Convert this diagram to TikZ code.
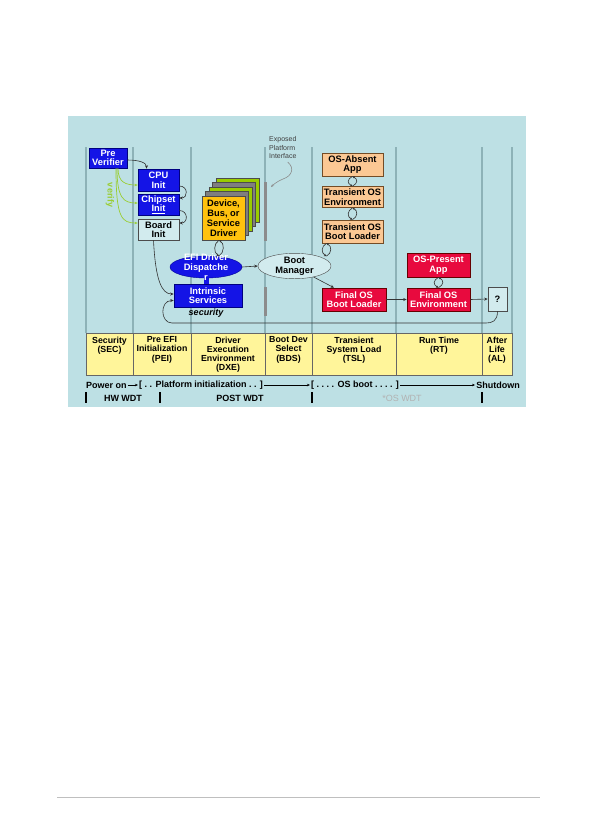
\documentclass[tikz,border=0pt]{standalone}
\usepackage{fontspec}
\setmainfont{Liberation Sans}
\usetikzlibrary{arrows.meta,shapes.geometric}
\definecolor{bg}{HTML}{BDE0E4}
\definecolor{vline}{HTML}{8DB2B7}
\definecolor{eblue}{HTML}{1414E6}
\definecolor{ered}{HTML}{E80A3E}
\definecolor{peach}{HTML}{FBC894}
\definecolor{tyellow}{HTML}{FFF59A}
\definecolor{gold}{HTML}{FFC20E}
\definecolor{lgreen}{HTML}{99CC00}
\definecolor{vgreen}{HTML}{9ACD32}
\definecolor{cgray}{HTML}{7F7F7F}
\definecolor{lbox}{HTML}{D2EBEE}
\tikzset{
 bx/.style={draw, inner sep=0pt, align=center, font=\fontsize{9.3}{9.6}\selectfont\bfseries, line width=0.6pt},
 bluebox/.style={bx, fill=eblue, draw=blue!50!black, text=white},
 redbox/.style={bx, fill=ered, draw=red!40!black, text=white},
 peachbox/.style={bx, fill=peach, draw=brown!60!black, text=black},
 plainbox/.style={bx, fill=lbox, draw=black!70, text=black},
 card/.style={draw=black!70, line width=0.5pt, minimum width=43pt, minimum height=44pt, inner sep=0pt},
 con/.style={draw=black!80, line width=0.6pt, -{Stealth[length=3.5pt,width=3pt]}},
 lcon/.style={draw=black!80, line width=0.6pt, -{Stealth[length=2.5pt,width=2.5pt]}},
 vcon/.style={draw=vgreen, line width=0.7pt, -{Stealth[length=3pt,width=2.5pt]}},
 phase/.style={inner sep=0pt, align=center, font=\fontsize{8.8}{9.2}\selectfont\bfseries, anchor=north},
 bt/.style={inner sep=1pt, font=\fontsize{9}{9}\selectfont\bfseries},
 bcon/.style={draw=black, line width=0.6pt, -{Stealth[length=3pt,width=2.5pt]}},
}
\newcommand\loopar[2]{%
 \draw[lcon] (#1) .. controls +(-5.5,3) and +(-5.5,-3) .. (#2);
 \draw[lcon] (#2) .. controls +(5.5,-3) and +(5.5,3) .. (#1);}
\begin{document}
\begin{tikzpicture}[x=1pt,y=-1pt]
\useasboundingbox (0,0) rectangle (595,839);
\fill[white] (0,0) rectangle (595,839);
\fill[bg] (68,116) rectangle (526,407);
\draw[black!25, line width=0.5pt] (57,797) -- (540,797);
% phase lines
\foreach \x in {86,133,191,265,312,396,482,512} \draw[vline, line width=1.3pt] (\x,147) -- (\x,333);
\draw[cgray!90, line width=3pt] (265.5,182) -- (265.5,241);
\draw[cgray!90, line width=3pt] (265.5,287) -- (265.5,316);
% table
\draw[fill=tyellow, draw=black!60, line width=0.6pt] (86,333) rectangle (512,375);
\foreach \x in {133,191,265,312,396,482} \draw[black!60, line width=0.6pt] (\x,333) -- (\x,375);
\node[phase] (sec) at (109.5,336.5) {Security\\(SEC)};
\node[phase] (pei) at (162,336.5) {Pre EFI\\Initialization\\(PEI)};
\node[phase] (dxe) at (228,336.5) {Driver\\Execution\\Environment\\(DXE)};
\node[phase] (bds) at (288.5,336.5) {Boot Dev\\Select\\(BDS)};
\node[phase] (tsl) at (354,336.5) {Transient\\System Load\\(TSL)};
\node[phase] (rt) at (439,336.5) {Run Time\\(RT)};
\node[phase] (al) at (497,336.5) {After\\Life\\(AL)};
% bottom rows
\node[bt, anchor=west] (pon) at (85,385) {Power on};
\node[bt] (pfi) at (201,385) {[ .\ . Platform initialization .\ . ]};
\node[bt] (osb) at (355,385) {[ .\ .\ .\ . OS boot .\ .\ .\ . ]};
\node[bt] (shd) at (498,385) {Shutdown};
\draw[bcon] (pon) -- (pfi);
\draw[bcon] (pfi) -- (osb);
\draw[bcon] (osb) -- (shd);
\foreach \x in {86,160,312,482} \draw[line width=1.6pt] (\x,392) -- (\x,403);
\node[bt] (hw) at (123,398) {HW WDT};
\node[bt] (post) at (240,398) {POST WDT};
\node[bt, text=black!30, font=\fontsize{9}{9}\selectfont] (osw) at (402,398) {*OS WDT};
% PEI boxes
\node[bluebox, minimum width=38pt, minimum height=20pt] (pre) at (108,158) {Pre\\Verifier};
\node[bluebox, minimum width=41pt, minimum height=22pt] (cpu) at (158.5,180) {CPU\\Init};
\node[bluebox, minimum width=41pt, minimum height=21pt] (chip) at (158.5,204.5) {Chipset\\\underline{Init}};
\node[plainbox, minimum width=41pt, minimum height=21pt] (board) at (158.5,229.5) {Board\\Init};
\draw[con] ([yshift=-2pt]pre.east) .. controls +(12,0) and +(0,-6) .. ([xshift=-12pt]cpu.north);
\draw[con] ([yshift=-6pt]cpu.east) .. controls +(9,0) and +(9,0) .. ([yshift=6.5pt]chip.east);
\draw[con] ([yshift=-6pt]chip.east) .. controls +(9,0) and +(9,0) .. ([yshift=6.5pt]board.east);
\draw[vcon] ([xshift=10pt]pre.south) .. controls +(0,14) and +(-12,0) .. ([yshift=-5pt]cpu.west);
\draw[vcon] ([xshift=9pt]pre.south) .. controls +(0,30) and +(-14,0) .. ([yshift=1.5pt]chip.west);
\draw[vcon] ([xshift=8pt]pre.south) .. controls +(0,50) and +(-16,0) .. ([yshift=6.5pt]board.west);
\node[rotate=-90, text=vgreen, inner sep=0pt, font=\fontsize{9}{9}\selectfont\bfseries] (vtxt) at (110,195) {verify};
% driver stack
\foreach \i/\c in {4/lgreen,3/cgray,2/lgreen,1/cgray} \node[card, fill=\c] (drv\i) at ({223.5+3.5*\i},{218-4.5*\i}) {};
\node[card, fill=gold, align=center, font=\fontsize{9.3}{9.8}\selectfont\bfseries] (drv) at (223.5,218) {Device,\\Bus, or\\Service\\Driver};
% dispatcher and services
\node[fill=eblue, minimum width=5pt, minimum height=8pt, inner sep=0pt] (rbar) at (206,280) {};
\node[ellipse, fill=eblue, draw=blue!60!black, minimum width=72pt, minimum height=22pt, inner sep=0pt] (disp) at (206,267) {};
\node[bluebox, minimum width=68pt, minimum height=23pt] (intr) at (208,295.5) {Intrinsic\\Services};
\node[inner sep=0pt, align=center, text=white, font=\fontsize{9.3}{10}\selectfont\bfseries] (dispt) at (206,267.5) {EFI Driver\\Dispatche\\r};
\node[inner sep=0pt, font=\fontsize{9}{9}\selectfont\bfseries\itshape] (secu) at (206,313) {security};
\loopar{[xshift=-4.5pt]drv.south}{[xshift=13pt]disp.north}
\draw[con] ([xshift=-5pt]board.south) .. controls +(2,40) and +(-12,0) .. ([yshift=1.5pt]intr.west);
% boot manager
\node[ellipse, draw=black!70, fill=lbox, minimum width=73pt, minimum height=24pt, inner sep=0pt, align=center, font=\fontsize{9.3}{9.6}\selectfont\bfseries] (bm) at (294.5,266) {Boot\\Manager};
\draw[con] (disp.east) -- (bm.west);
% TSL boxes
\node[peachbox, minimum width=61pt, minimum height=23pt] (osa) at (352.5,164.5) {OS-Absent\\App};
\node[peachbox, minimum width=61pt, minimum height=21pt] (toe) at (352.5,197) {Transient OS\\Environment};
\node[peachbox, minimum width=61pt, minimum height=23pt] (tosbl) at (352.5,231.5) {Transient OS\\Boot Loader};
\loopar{osa.south}{toe.north}
\loopar{toe.south}{tosbl.north}
\loopar{[xshift=-26pt]tosbl.south}{[xshift=32pt,yshift=-3pt]bm.north}
% RT boxes
\node[redbox, minimum width=63pt, minimum height=24pt] (osp) at (438.5,265) {OS-Present\\App};
\node[redbox, minimum width=64pt, minimum height=23pt] (fobl) at (354,299.5) {Final OS\\Boot Loader};
\node[redbox, minimum width=63pt, minimum height=23pt] (foe) at (438.5,299.5) {Final OS\\Environment};
\node[plainbox, minimum width=19pt, minimum height=24pt] (q) at (497.5,299) {?};
\loopar{osp.south}{foe.north}
\draw[con] (bm.330) -- ([xshift=-20pt]fobl.north);
\draw[con] (fobl.east) -- (foe.west);
\draw[con] (foe.east) -- (q.west);
\coordinate (qr) at (486,323);
\coordinate (ql) at (172,323);
\draw[con] (q.south) .. controls +(0,10) and +(6,0) .. (qr) -- (ql) .. controls +(-12,0) and +(-14,0) .. ([yshift=-5pt]intr.west);
% exposed platform interface
\node[anchor=north west, align=left, inner sep=0pt, font=\fontsize{7}{8.8}\selectfont, text=black!75] (epi) at (269,136) {Exposed\\Platform\\Interface};
\coordinate (barpt) at (271,187);
\draw[black!45, line width=0.6pt, -{Stealth[length=3pt,width=2.5pt]}] ([xshift=5pt,yshift=-3pt]epi.south) .. controls +(7,6) and +(9,-3) .. (283,179) .. controls +(-5,2) and +(3,-3) .. (barpt);
\end{tikzpicture}
\end{document}
